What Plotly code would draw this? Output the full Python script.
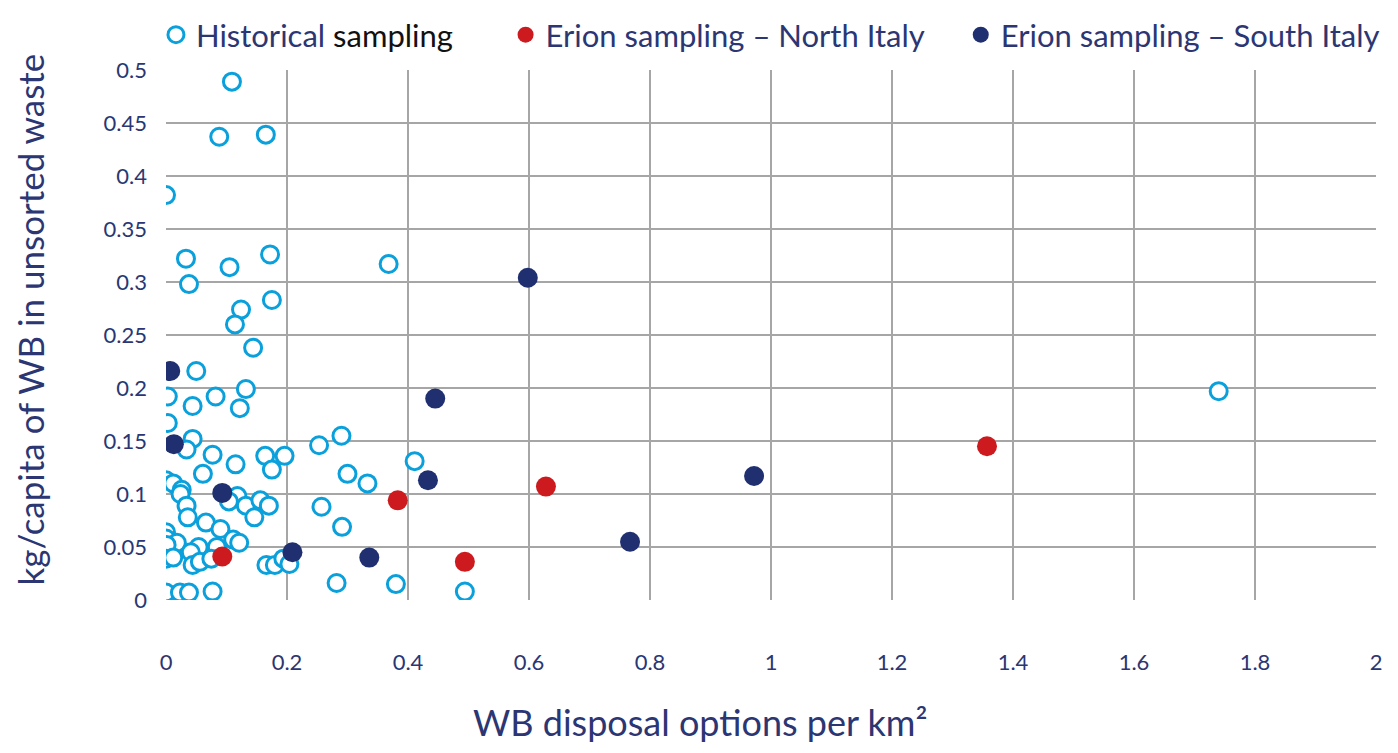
import plotly.graph_objects as go

# Historical sampling (x: WB disposal options per km², y: kg/capita)
hist_x = [0.109, 0.088, 0.165, 0.0, 0.033, 0.038, 0.105, 0.172, 0.368, 0.175, 0.124,
          0.114, 0.144, 0.050, 0.003, 0.082, 0.132, 0.044, 0.122, 0.003, 0.044, 0.034,
          0.077, 0.115, 0.164, 0.196, 0.175, 0.253, 0.290, 0.411, 0.300, 0.333, 0.061,
          0.0, 0.012, 0.026, 0.024, 0.118, 0.104, 0.132, 0.156, 0.170, 0.146, 0.034,
          0.036, 0.066, 0.090, 0.111, 0.121, 0.257, 0.291, 0.0, 0.0, 0.018, 0.001,
          0.054, 0.041, 0.084, 0.0, 0.012, 0.044, 0.056, 0.075, 0.166, 0.180, 0.194,
          0.204, 0.282, 0.380, 0.0, 0.023, 0.038, 0.077, 0.494, 1.740]
hist_y = [0.489, 0.437, 0.439, 0.382, 0.322, 0.298, 0.314, 0.326, 0.317, 0.283, 0.274,
          0.260, 0.238, 0.216, 0.192, 0.192, 0.199, 0.183, 0.181, 0.167, 0.152, 0.142,
          0.137, 0.128, 0.136, 0.136, 0.123, 0.146, 0.155, 0.131, 0.119, 0.110, 0.119,
          0.113, 0.110, 0.104, 0.100, 0.098, 0.093, 0.089, 0.094, 0.089, 0.078, 0.089,
          0.078, 0.073, 0.067, 0.057, 0.054, 0.088, 0.069, 0.064, 0.058, 0.054, 0.052,
          0.050, 0.045, 0.050, 0.039, 0.040, 0.033, 0.036, 0.039, 0.033, 0.033, 0.039,
          0.034, 0.016, 0.015, 0.007, 0.007, 0.007, 0.008, 0.008, 0.197]

# Erion sampling – North Italy
north_x = [0.383, 0.093, 0.494, 0.628, 1.357]
north_y = [0.094, 0.041, 0.036, 0.107, 0.145]

# Erion sampling – South Italy
south_x = [0.007, 0.013, 0.093, 0.209, 0.336, 0.433, 0.445, 0.598, 0.767, 0.972]
south_y = [0.216, 0.147, 0.101, 0.045, 0.040, 0.113, 0.190, 0.304, 0.055, 0.117]

x_ticks = [0, 0.2, 0.4, 0.6, 0.8, 1, 1.2, 1.4, 1.6, 1.8, 2]
y_ticks = [0, 0.05, 0.1, 0.15, 0.2, 0.25, 0.3, 0.35, 0.4, 0.45, 0.5]

NAVY_TXT = "#2B3673"
LIGHT = "#0AA0DC"
RED = "#CC1A1E"
NAVY = "#1F2F70"
FONT = "Lato"
PAD1 = "&nbsp;" * 6
PAD2 = "&nbsp;" * 4

fig = go.Figure()
fig.add_trace(go.Scatter(
    x=hist_x, y=hist_y, mode="markers",
    name="Historical <span style='color:#111111'>sampling</span>" + PAD1,
    marker=dict(symbol="circle", size=17, color="white",
                line=dict(color=LIGHT, width=3)),
))
fig.add_trace(go.Scatter(
    x=north_x, y=north_y, mode="markers",
    name="Erion sampling – North Italy" + PAD2,
    marker=dict(symbol="circle", size=20, color=RED, line=dict(width=0)),
))
fig.add_trace(go.Scatter(
    x=south_x, y=south_y, mode="markers",
    name="Erion sampling – South Italy",
    marker=dict(symbol="circle", size=20, color=NAVY, line=dict(width=0)),
))

fig.update_layout(
    width=1382, height=737,
    paper_bgcolor="white", plot_bgcolor="white",
    margin=dict(l=158, r=14, t=62, b=145, autoexpand=False),
    font=dict(family=FONT, color=NAVY_TXT, size=22),
    showlegend=True,
    legend=dict(orientation="h", x=-0.0083, xanchor="left", y=1.117, yanchor="top",
                xref="paper", yref="paper",
                font=dict(size=31, color=NAVY_TXT, family=FONT),
                itemsizing="trace", tracegroupgap=0,
                bgcolor="rgba(0,0,0,0)"),
)

fig.update_xaxes(range=[0, 2], tickvals=x_ticks, ticktext=[str(v) for v in x_ticks],
                 showgrid=True, gridcolor="#A6A6A6", gridwidth=2,
                 zeroline=False, showline=False, ticks="",
                 ticklabelstandoff=47, tickfont=dict(size=22, color=NAVY_TXT))
fig.update_yaxes(range=[0, 0.5], tickvals=y_ticks, ticktext=[str(v) for v in y_ticks],
                 showgrid=True, gridcolor="#A6A6A6", gridwidth=2,
                 zeroline=False, showline=False, ticks="",
                 ticklabelstandoff=18, tickfont=dict(size=22, color=NAVY_TXT))

fig.add_annotation(text="WB disposal options per km²", xref="paper", yref="paper",
                   x=0.441, y=-0.275, xanchor="center", yanchor="bottom",
                   showarrow=False, font=dict(size=36, color=NAVY_TXT, family=FONT))
fig.add_annotation(text="kg/capita of WB in unsorted waste", xref="paper", yref="paper",
                   x=-0.112, y=0.53, xanchor="center", yanchor="middle", textangle=-90,
                   showarrow=False, font=dict(size=35, color=NAVY_TXT, family=FONT))

fig.write_html("out.html")
